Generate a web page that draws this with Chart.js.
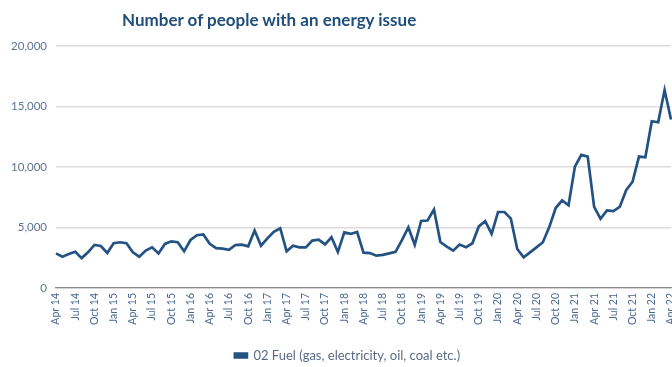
<!DOCTYPE html>
<html>
<head>
<meta charset="utf-8">
<script src="https://cdn.jsdelivr.net/npm/chart.js@4.4.1/dist/chart.umd.min.js"></script>
<style>
  html, body { margin: 0; padding: 0; background: #fff; overflow: hidden; }
  #wrap { position: relative; width: 694px; height: 367px; }
  #title {
    position: absolute; left: 122px; top: 9px;
    font-family: Lato, "Open Sans", sans-serif; font-weight: bold;
    font-size: 17px; color: #1f4e79; white-space: nowrap;
  }
</style>
</head>
<body>
<div id="wrap">
  <canvas id="linechart" width="694" height="367"></canvas>
  <div id="title">Number of people with an energy issue</div>
</div>
<script>
 "use strict";

	/*----------------------------------------*/
	/*  data
	/*----------------------------------------*/
	var months = [
		"Apr 14", "May 14", "Jun 14", "Jul 14", "Aug 14", "Sep 14", "Oct 14", "Nov 14", "Dec 14",
		"Jan 15", "Feb 15", "Mar 15", "Apr 15", "May 15", "Jun 15", "Jul 15", "Aug 15", "Sep 15", "Oct 15", "Nov 15", "Dec 15",
		"Jan 16", "Feb 16", "Mar 16", "Apr 16", "May 16", "Jun 16", "Jul 16", "Aug 16", "Sep 16", "Oct 16", "Nov 16", "Dec 16",
		"Jan 17", "Feb 17", "Mar 17", "Apr 17", "May 17", "Jun 17", "Jul 17", "Aug 17", "Sep 17", "Oct 17", "Nov 17", "Dec 17",
		"Jan 18", "Feb 18", "Mar 18", "Apr 18", "May 18", "Jun 18", "Jul 18", "Aug 18", "Sep 18", "Oct 18", "Nov 18", "Dec 18",
		"Jan 19", "Feb 19", "Mar 19", "Apr 19", "May 19", "Jun 19", "Jul 19", "Aug 19", "Sep 19", "Oct 19", "Nov 19", "Dec 19",
		"Jan 20", "Feb 20", "Mar 20", "Apr 20", "May 20", "Jun 20", "Jul 20", "Aug 20", "Sep 20", "Oct 20", "Nov 20", "Dec 20",
		"Jan 21", "Feb 21", "Mar 21", "Apr 21", "May 21", "Jun 21", "Jul 21", "Aug 21", "Sep 21", "Oct 21", "Nov 21", "Dec 21",
		"Jan 22", "Feb 22", "Mar 22", "Apr 22"
	];

	var fuelIssues = [
		2860, 2590, 2800, 3000, 2470, 2950, 3560, 3470, 2890,
		3700, 3780, 3700, 2950, 2590, 3090, 3360, 2860, 3640, 3860, 3780, 3030,
		3970, 4360, 4420, 3650, 3300, 3250, 3150, 3550, 3580, 3440, 4750, 3500,
		4100, 4650, 4940, 3030, 3500, 3360, 3360, 3920, 4000, 3600, 4190, 2970,
		4600, 4470, 4640, 2920, 2890, 2670, 2740, 2860, 2990, 3950, 5000, 3570,
		5540, 5580, 6490, 3800, 3420, 3090, 3590, 3360, 3700, 5090, 5530, 4480,
		6280, 6280, 5730, 3220, 2530, 2940, 3360, 3780, 5030, 6610, 7250, 6830,
		10030, 11000, 10860, 6700, 5720, 6420, 6360, 6700, 8080, 8780, 10860, 10800,
		13780, 13700, 16360, 13920
	];

	var yTicks = [0, 5000, 10000, 15000, 20000];
	var seriesName = "02 Fuel (gas, electricity, oil, coal etc.)";

	// excel centres the legend a little right of the plot, nudge it over
	var legendShift = {
		id: 'legendShift',
		afterLayout: function (chart) {
			chart.legend.left += 12;
			chart.legend.right += 12;
		}
	};

	/*----------------------------------------*/
	/*  line Chart
	/*----------------------------------------*/
	var font = "Lato, 'Open Sans', sans-serif";
	var ctx = document.getElementById("linechart");
	var linechart = new Chart(ctx, {
		type: 'line',
		data: {
			labels: months,
			datasets: [{
				label: seriesName,
				data: fuelIssues,
				borderColor: '#245383',
				backgroundColor: '#245383',
				borderWidth: 2.7,
				pointRadius: 0,
				tension: 0
			}]
		},
		plugins: [legendShift],
		options: {
			responsive: false,
			animation: false,
			layout: {
				padding: { top: 46, right: 23, left: 0, bottom: -5 }
			},
			plugins: {
				tooltip: { enabled: false },
				title: { display: false },
				legend: {
					position: 'bottom',
					labels: {
						boxWidth: 12,
						boxHeight: 4,
						padding: 2,
						color: '#5a6a84',
						font: { family: font, size: 13 }
					}
				}
			},
			scales: {
				x: {
					offset: false,
					grid: { display: false, drawTicks: false },
					border: { display: true, color: '#8c8c8c', width: 1.2 },
					ticks: {
						autoSkip: false,
						maxRotation: 90,
						minRotation: 90,
						padding: 5,
						color: '#4a6894',
						font: { family: font, size: 10.5 },
						callback: function (value, index) {
							return index % 3 === 0 ? months[index] : '';
						}
					},
					afterFit: function (scale) { scale.height = 59; }
				},
				y: {
					min: 0,
					max: 20000,
					afterBuildTicks: function (scale) {
						scale.ticks = yTicks.map(function (v) { return { value: v }; });
					},
					grid: { color: '#dcdcdc', lineWidth: 1.5, drawTicks: false },
					border: { display: false },
					ticks: {
						padding: 9,
						color: '#5f7393',
						font: { family: font, size: 11.5 },
						callback: function (value) { return value.toLocaleString('en-US'); }
					},
					afterFit: function (scale) { scale.width = 56; }
				}
			}
		}
	});
</script>
</body>
</html>
